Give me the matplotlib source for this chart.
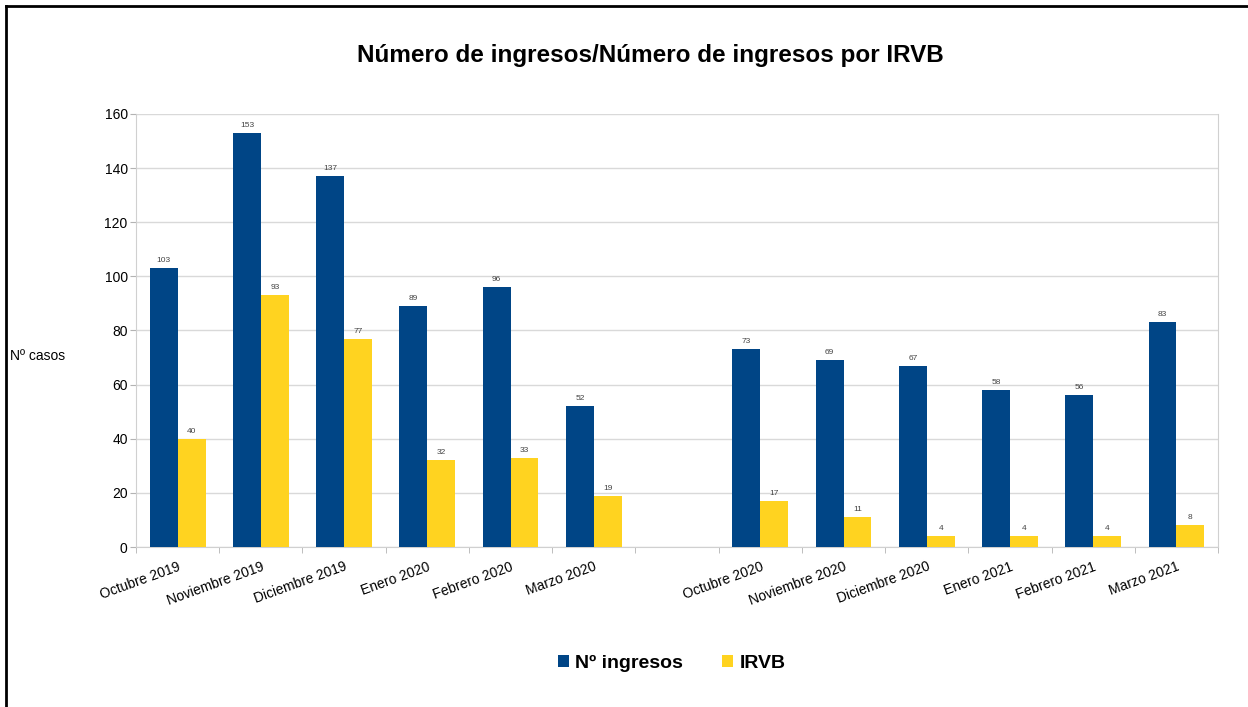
import matplotlib.pyplot as plt
import numpy as np

plt.rcParams['font.family'] = ['Liberation Sans', 'DejaVu Sans']

# Data (the empty label is the gap between the two periods)
meses = ['Octubre 2019', 'Noviembre 2019', 'Diciembre 2019', 'Enero 2020',
         'Febrero 2020', 'Marzo 2020', '',
         'Octubre 2020', 'Noviembre 2020', 'Diciembre 2020', 'Enero 2021',
         'Febrero 2021', 'Marzo 2021']
ingresos = [103, 153, 137, 89, 96, 52, None, 73, 69, 67, 58, 56, 83]
irvb = [40, 93, 77, 32, 33, 19, None, 17, 11, 4, 4, 4, 8]

azul = '#004586'
amarillo = '#ffd320'

fig = plt.figure(figsize=(12.48, 7.07), dpi=100)
ax = fig.add_axes([0.109, 0.2263, 0.867, 0.6125])

x = np.arange(len(meses))
w = 0.335
ing = np.array([np.nan if v is None else v for v in ingresos], dtype=float)
irv = np.array([np.nan if v is None else v for v in irvb], dtype=float)

b1 = ax.bar(x - w / 2, ing, w, color=azul, label='Nº ingresos', zorder=3)
b2 = ax.bar(x + w / 2, irv, w, color=amarillo, label='IRVB', zorder=3)

for bars, vals in ((b1, ing), (b2, irv)):
    for r, v in zip(bars, vals):
        if np.isnan(v):
            continue
        ax.text(r.get_x() + r.get_width() / 2, v + 1.5, '%d' % v,
                ha='center', va='bottom', fontsize=6, color='#444444')

ax.set_xlim(-0.5, len(meses) - 0.5)
ax.set_ylim(0, 160)
ax.set_yticks(range(0, 161, 20))
ax.grid(axis='y', color='#d9d9d9', linewidth=1, zorder=0)

ax.set_xticks(x)
ax.set_xticklabels(meses, rotation=20, ha='right', rotation_mode='anchor', fontsize=10)
ax.set_xticks(np.arange(-0.5, len(meses), 1), minor=True)
ax.tick_params(axis='x', which='major', length=0, pad=9)
ax.tick_params(axis='x', which='minor', length=4, color='#b3b3b3')
ax.tick_params(axis='y', length=4, color='#b3b3b3', labelsize=10, pad=2)

for s in ['left', 'bottom', 'right']:
    ax.spines[s].set_color('#d0d0d0')
ax.spines['top'].set_visible(False)

fig.text(0.521, 0.922, 'Número de ingresos/Número de ingresos por IRVB',
         ha='center', va='center', fontsize=17.5, fontweight='bold')
fig.text(0.008, 0.497, 'Nº casos', ha='left', va='center', fontsize=10)

fig.legend(handles=[b1, b2], loc='center', bbox_to_anchor=(0.538, 0.062), ncol=2,
           frameon=False, handlelength=0.6, handleheight=0.6,
           columnspacing=2.0, handletextpad=0.3, prop={'weight': 'bold', 'size': 14})

# black frame on left and top edges
fig.add_artist(plt.Line2D([0.0045, 0.0045], [0, 0.992], color='black', linewidth=2,
                          transform=fig.transFigure))
fig.add_artist(plt.Line2D([0.0045, 1], [0.992, 0.992], color='black', linewidth=2,
                          transform=fig.transFigure))

fig.savefig('out.png', dpi=100)
